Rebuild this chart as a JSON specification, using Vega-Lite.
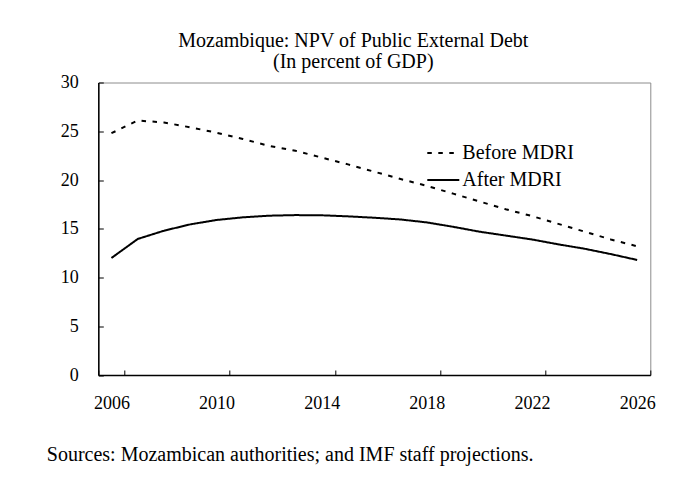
{
  "$schema": "https://vega.github.io/schema/vega-lite/v6.json",
  "width": 552,
  "height": 292.5,
  "autosize": {"type": "none"},
  "padding": {"left": 98.3, "top": 82.5, "right": 40.7, "bottom": 104},
  "background": "white",
  "title": {
    "text": ["Mozambique: NPV of Public External Debt", "(In percent of GDP)"],
    "anchor": "middle",
    "frame": "group",
    "dx": -21,
    "offset": 2,
    "font": "Liberation Serif",
    "fontSize": 20,
    "fontWeight": "normal",
    "color": "black",
    "lineHeight": 21
  },
  "config": {
    "view": {"stroke": "#8c8c8c", "strokeWidth": 1},
    "font": "Liberation Serif"
  },
  "data": {
    "values": [
      {"year": 2006, "series": "Before MDRI", "value": 24.8},
      {"year": 2007, "series": "Before MDRI", "value": 26.1},
      {"year": 2008, "series": "Before MDRI", "value": 25.9},
      {"year": 2009, "series": "Before MDRI", "value": 25.4},
      {"year": 2010, "series": "Before MDRI", "value": 24.85},
      {"year": 2011, "series": "Before MDRI", "value": 24.2},
      {"year": 2012, "series": "Before MDRI", "value": 23.5},
      {"year": 2013, "series": "Before MDRI", "value": 23.0},
      {"year": 2014, "series": "Before MDRI", "value": 22.3},
      {"year": 2015, "series": "Before MDRI", "value": 21.6},
      {"year": 2016, "series": "Before MDRI", "value": 20.85},
      {"year": 2017, "series": "Before MDRI", "value": 20.1},
      {"year": 2018, "series": "Before MDRI", "value": 19.4},
      {"year": 2019, "series": "Before MDRI", "value": 18.6},
      {"year": 2020, "series": "Before MDRI", "value": 17.8},
      {"year": 2021, "series": "Before MDRI", "value": 17.0},
      {"year": 2022, "series": "Before MDRI", "value": 16.3},
      {"year": 2023, "series": "Before MDRI", "value": 15.5},
      {"year": 2024, "series": "Before MDRI", "value": 14.7},
      {"year": 2025, "series": "Before MDRI", "value": 13.9},
      {"year": 2026, "series": "Before MDRI", "value": 13.2},
      {"year": 2006, "series": "After MDRI", "value": 12.0},
      {"year": 2007, "series": "After MDRI", "value": 13.95},
      {"year": 2008, "series": "After MDRI", "value": 14.8},
      {"year": 2009, "series": "After MDRI", "value": 15.45},
      {"year": 2010, "series": "After MDRI", "value": 15.9},
      {"year": 2011, "series": "After MDRI", "value": 16.17},
      {"year": 2012, "series": "After MDRI", "value": 16.34},
      {"year": 2013, "series": "After MDRI", "value": 16.4},
      {"year": 2014, "series": "After MDRI", "value": 16.38},
      {"year": 2015, "series": "After MDRI", "value": 16.27},
      {"year": 2016, "series": "After MDRI", "value": 16.13},
      {"year": 2017, "series": "After MDRI", "value": 15.95},
      {"year": 2018, "series": "After MDRI", "value": 15.65},
      {"year": 2019, "series": "After MDRI", "value": 15.2},
      {"year": 2020, "series": "After MDRI", "value": 14.7},
      {"year": 2021, "series": "After MDRI", "value": 14.3},
      {"year": 2022, "series": "After MDRI", "value": 13.9},
      {"year": 2023, "series": "After MDRI", "value": 13.4},
      {"year": 2024, "series": "After MDRI", "value": 12.95},
      {"year": 2025, "series": "After MDRI", "value": 12.4},
      {"year": 2026, "series": "After MDRI", "value": 11.8}
    ]
  },
  "mark": {"type": "line", "color": "black", "strokeWidth": 2},
  "encoding": {
    "x": {
      "field": "year",
      "type": "ordinal",
      "scale": {"type": "band", "paddingInner": 0, "paddingOuter": 0},
      "axis": {
        "values": [2006, 2010, 2014, 2018, 2022, 2026],
        "tickBand": "extent",
        "labelAngle": 0,
        "grid": false,
        "domainColor": "black",
        "domainWidth": 1.5,
        "tickColor": "black",
        "tickSize": -5,
        "tickWidth": 1,
        "labelFont": "Liberation Serif",
        "labelFontSize": 18,
        "labelColor": "black",
        "labelPadding": 24,
        "title": "Sources: Mozambican authorities; and IMF staff projections.",
        "titleX": -52,
        "titleY": 85,
        "titleAlign": "left",
        "titleAnchor": "start",
        "titleBaseline": "alphabetic",
        "titleFont": "Liberation Serif",
        "titleFontSize": 20,
        "titleFontWeight": "normal",
        "titleColor": "black"
      }
    },
    "y": {
      "field": "value",
      "type": "quantitative",
      "scale": {"domain": [0, 30], "nice": false},
      "axis": {
        "values": [0, 5, 10, 15, 20, 25, 30],
        "grid": false,
        "domainColor": "black",
        "domainWidth": 1.5,
        "tickColor": "black",
        "tickSize": -5,
        "tickWidth": 1,
        "labelFont": "Liberation Serif",
        "labelFontSize": 18,
        "labelColor": "black",
        "labelPadding": 25,
        "title": null
      }
    },
    "strokeDash": {
      "field": "series",
      "type": "nominal",
      "scale": {"domain": ["Before MDRI", "After MDRI"], "range": [[4.5, 6.5], [1, 0]]},
      "legend": {
        "orient": "none",
        "legendX": 328,
        "legendY": 53.5,
        "title": null,
        "symbolType": "stroke",
        "symbolSize": 1024,
        "symbolStrokeWidth": 2,
        "symbolStrokeColor": "black",
        "labelFont": "Liberation Serif",
        "labelFontSize": 20,
        "labelColor": "black",
        "labelOffset": 2,
        "rowPadding": -4,
        "padding": 0
      }
    }
  }
}
